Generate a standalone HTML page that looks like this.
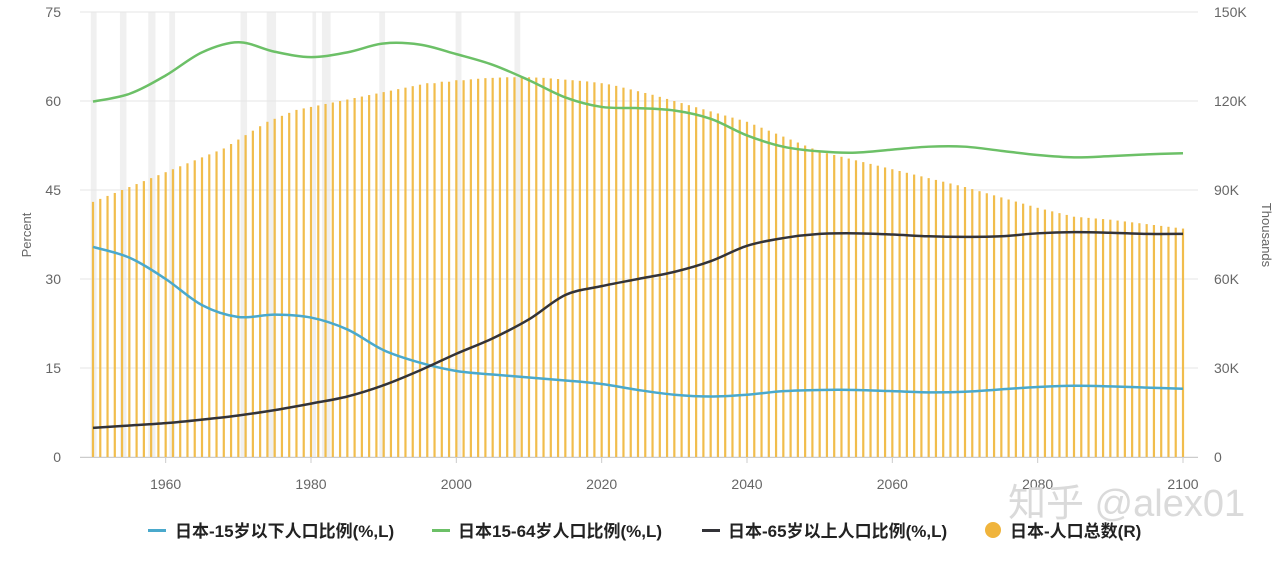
<!DOCTYPE html>
<html><head><meta charset="utf-8">
<style>
body{margin:0;background:#fff;}
svg text{font-family:"Liberation Sans","Noto Sans CJK SC",sans-serif;}
</style></head>
<body>
<svg id="chart" width="1285" height="556" xmlns="http://www.w3.org/2000/svg">
<g id="bands"></g>
<g id="grid"></g>
<g id="bars"></g>
<g id="lines"></g>
<g id="axes"></g>
<text x="31" y="235" font-size="13" fill="#666" text-anchor="middle" transform="rotate(-90 31 235)">Percent</text>
<text x="1262" y="235" font-size="13" fill="#666" text-anchor="middle" transform="rotate(90 1262 235)">Thousands</text>
<text x="1008" y="516" font-size="38" fill="#dadada">知乎 @alex01</text>
<g font-size="17" font-weight="bold" fill="#222">
 <g><rect x="148" y="529" width="18" height="3" fill="#4aa9cc"/><text x="175" y="537">日本-15岁以下人口比例(%,L)</text></g>
 <g><rect x="432" y="529" width="18" height="3" fill="#6cc067"/><text x="458" y="537">日本15-64岁人口比例(%,L)</text></g>
 <g><rect x="702" y="529" width="18" height="3" fill="#333338"/><text x="728" y="537">日本-65岁以上人口比例(%,L)</text></g>
 <g><circle cx="993" cy="530" r="8" fill="#f0b43c"/><text x="1010" y="537">日本-人口总数(R)</text></g>
</g>
</svg>
<script>
const years5=[1950,1955,1960,1965,1970,1975,1980,1985,1990,1995,2000,2005,2010,2015,2020,2025,2030,2035,2040,2045,2050,2055,2060,2065,2070,2075,2080,2085,2090,2095,2100];
const working=[59.9,61.2,64.3,68.2,69.9,68.3,67.4,68.2,69.7,69.5,67.9,66.1,63.5,60.6,59.0,58.8,58.4,57.0,54.2,52.3,51.5,51.3,51.8,52.3,52.3,51.6,50.9,50.5,50.7,51.0,51.2];
const young=[35.4,33.6,30.0,25.6,23.6,24.0,23.5,21.5,18.0,15.9,14.5,13.9,13.4,12.9,12.3,11.3,10.5,10.2,10.5,11.1,11.3,11.3,11.1,10.9,11.0,11.4,11.8,12.0,11.9,11.7,11.5];
const old=[4.9,5.3,5.7,6.3,7.0,7.9,9.0,10.2,12.1,14.6,17.4,20.0,23.2,27.3,28.8,30.0,31.2,33.0,35.6,36.9,37.6,37.7,37.5,37.2,37.1,37.2,37.7,37.9,37.8,37.6,37.6];
const popStart=1950;
const population=[86,87,88,89,90,91,92,93,94,95,96,
97,98,99,100,101,102,103,104,105.5,107,
108.5,110,111.5,113,114,115,116,117,117.5,118,
118.5,119,119.5,120,120.5,121,121.5,122,122.5,123,
123.5,124,124.5,125,125.5,126,126,126.5,126.5,127,
127,127.3,127.5,127.7,127.8,127.9,128,128,128,128,
127.9,127.8,127.6,127.4,127.2,127,126.8,126.6,126.3,126,
125.6,125.1,124.5,123.9,123.3,122.7,122.1,121.4,120.7,120,
119.3,118.6,117.9,117.2,116.5,115.8,115.1,114.4,113.7,113,
112,111,110,109,108,107,106,105,104,103,
102.4,101.8,101.2,100.6,100,99.4,98.8,98.2,97.6,97,
96.4,95.8,95.2,94.6,94,93.4,92.8,92.2,91.6,91,
90.3,89.6,88.9,88.2,87.5,86.8,86.1,85.4,84.7,84,
83.4,82.8,82.2,81.6,81,80.8,80.6,80.4,80.2,80,
79.7,79.4,79.1,78.8,78.5,78.2,77.9,77.6,77.3,77];
const leftTicks=[0,15,30,45,60,75];
const rightTicks=["0","30K","60K","90K","120K","150K"];
const xTicks=[1960,1980,2000,2020,2040,2060,2080,2100];
const bandYears=[[1949.7,1950.5],[1953.7,1954.6],[1957.6,1958.6],[1960.5,1961.3],[1970.3,1971.2],[1973.9,1975.2],[1980.2,1980.7],[1981.5,1982.7],[1989.4,1990.2],[1999.9,2000.7],[2008,2008.8]];
const NS="http://www.w3.org/2000/svg";
const X=y=>93+(y-1950)*1090/150;
const YL=v=>457-v*445/75;
const YR=v=>457-v*445/150;
function mk(tag,attrs,parent){const e=document.createElementNS(NS,tag);for(const k in attrs)e.setAttribute(k,attrs[k]);parent.appendChild(e);return e;}
const bands=document.getElementById('bands');
bandYears.forEach(b=>{const r=mk('rect',{x:X(b[0]),y:12,width:X(b[1])-X(b[0]),height:445,fill:'#f0f0f0'},bands);

});
const grid=document.getElementById('grid'),axes=document.getElementById('axes');
leftTicks.forEach((t,i)=>{const y=YL(t);
const l=mk('line',{x1:80,x2:1198,y1:y,y2:y,stroke:'#e6e6e6','stroke-width':1},grid);


const a=mk('text',{x:61,y:y+5,'font-size':14,fill:'#666','text-anchor':'end'},axes);a.textContent=t;


const b=mk('text',{x:1214,y:y+5,'font-size':14,fill:'#666'},axes);b.textContent=rightTicks[i];

});
const xl=mk('line',{x1:80,x2:1198,y1:457.5,y2:457.5,stroke:'#ccc'},axes);


xTicks.forEach(t=>{const tk=mk('line',{x1:X(t),x2:X(t),y1:457,y2:463,stroke:'#ccc'},axes);


const tx=mk('text',{x:X(t),y:489,'font-size':14,fill:'#666','text-anchor':'middle'},axes);tx.textContent=t;

});
const bars=document.getElementById('bars');
population.forEach((v,i)=>{const x=X(popStart+i);
const r=mk('rect',{x:x-1.1,y:YR(v),width:2.2,height:457-YR(v),fill:'#f1bd4c'},bars);

});
function smooth(vals){const p=vals.map((v,i)=>[X(years5[i]),YL(v)]);let d='M'+p[0][0]+','+p[0][1];
for(let i=0;i<p.length-1;i++){const p0=p[i-1]||p[i],p1=p[i],p2=p[i+1],p3=p[i+2]||p2;
const c1=[p1[0]+(p2[0]-p0[0])/6,p1[1]+(p2[1]-p0[1])/6],c2=[p2[0]-(p3[0]-p1[0])/6,p2[1]-(p3[1]-p1[1])/6];
d+=' C'+c1+' '+c2+' '+p2;}return d;}
const lines=document.getElementById('lines');
[[working,'#6cc067','line-15to64'],[young,'#4aa9cc','line-under15'],[old,'#333338','line-over65']].forEach(s=>{
const p=mk('path',{d:smooth(s[0]),fill:'none',stroke:s[1],'stroke-width':2.5},lines);

});
</script>
</body></html>
